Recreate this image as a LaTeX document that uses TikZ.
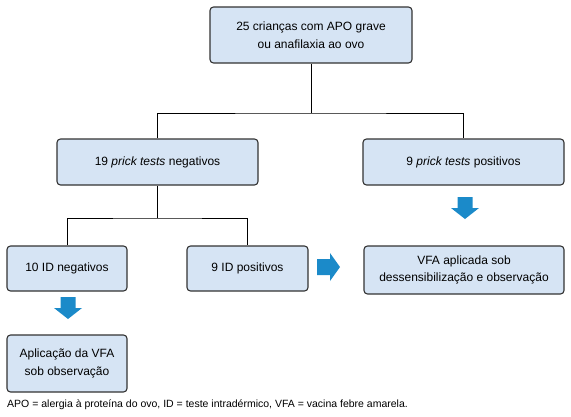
\documentclass[tikz,border=0pt]{standalone}
\usepackage{fontspec}
\setmainfont{Liberation Sans}
\definecolor{boxfill}{HTML}{D6E4F4}
\definecolor{boxline}{HTML}{333333}
\definecolor{arrblue}{HTML}{1B8AC9}
\begin{document}
\begin{tikzpicture}[x=1pt,y=-1pt,
  flowbox/.style={draw=boxline,fill=boxfill,line width=1.1pt,rounded corners=3.5pt,
    align=center,inner sep=0pt,font=\fontsize{12}{17.5}\selectfont},
  conn/.style={draw=black,line width=0.9pt},
  blockarrow/.style={fill=arrblue,draw=none}]
\useasboundingbox (0,0) rectangle (571,416);
\node[flowbox,minimum width=202pt,minimum height=56pt] (top) at (311,35) {25 crianças com APO grave\\ou anafilaxia ao ovo};
\node[flowbox,minimum width=201pt,minimum height=46pt] (neg) at (157.5,162) {19 \textit{prick tests} negativos};
\node[flowbox,minimum width=201pt,minimum height=46pt] (pos) at (463.5,162) {9 \textit{prick tests} positivos};
\node[flowbox,minimum width=120pt,minimum height=45pt] (idneg) at (67,268.5) {10 ID negativos};
\node[flowbox,minimum width=121pt,minimum height=45pt] (idpos) at (247.5,268.5) {9 ID positivos};
\node[flowbox,minimum width=200pt,minimum height=48pt] (vfa) at (464,270) {VFA aplicada sob\\dessensibilização e observação};
\node[flowbox,minimum width=120pt,minimum height=57pt] (aplic) at (67,363.5) {Aplicação da VFA\\sob observação};
\node[anchor=west,inner sep=0pt,font=\fontsize{10.5}{12}\selectfont] (note) at (7,405) {APO = alergia à proteína do ovo, ID = teste intradérmico, VFA = vacina febre amarela.};
\coordinate (j1) at (311,113);
\coordinate (j2) at (157.5,218);
\draw[conn] (top.south) -- (j1);
\draw[conn] (neg.north) |- (j1) -| (pos.north);
\draw[conn] (neg.south) -- (j2);
\draw[conn] (idneg.north) |- (j2) -| (idpos.north);
% block arrows
\coordinate (a1) at (465,197);
\coordinate (a2) at (68,297);
\coordinate (a3) at (317,267);
\fill[blockarrow] (a1) ++(-7.5,0) -- ++(15,0) -- ++(0,11) -- ++(6.5,0) -- ++(-14,11) -- ++(-14,-11) -- ++(6.5,0) -- cycle;
\fill[blockarrow] (a2) ++(-7.5,0) -- ++(15,0) -- ++(0,11) -- ++(6.5,0) -- ++(-14,11) -- ++(-14,-11) -- ++(6.5,0) -- cycle;
\fill[blockarrow] (a3) ++(0,-8) -- ++(13,0) -- ++(0,-6) -- ++(10,14) -- ++(-10,14) -- ++(0,-6) -- ++(-13,0) -- cycle;
\end{tikzpicture}
\end{document}
